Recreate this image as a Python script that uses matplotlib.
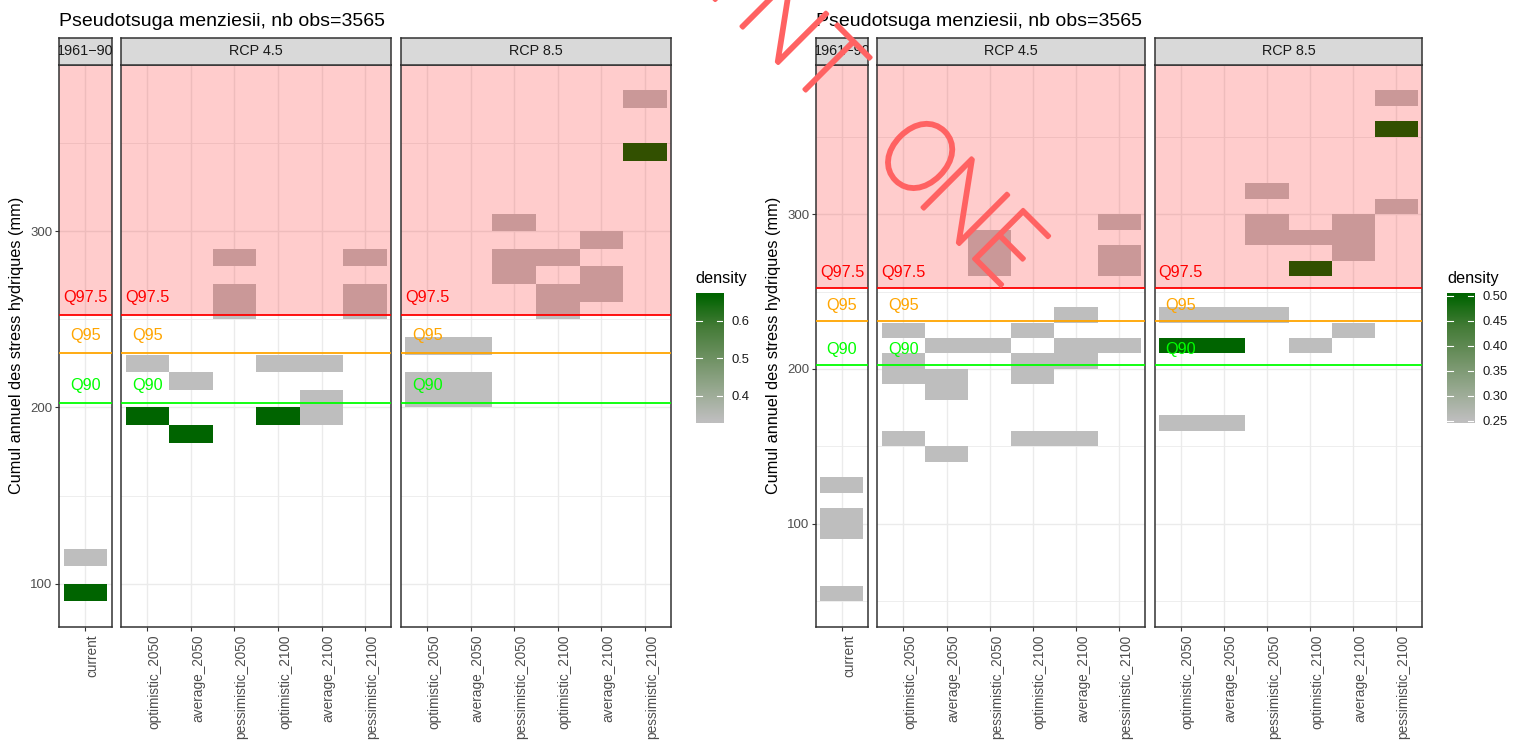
import matplotlib.pyplot as plt
import matplotlib.patheffects as pe
import numpy as np
from matplotlib import font_manager
from matplotlib.colors import LinearSegmentedColormap, Normalize
from matplotlib.ticker import MultipleLocator

plt.rcParams['font.family'] = ['Liberation Sans', 'DejaVu Sans']

W, H = 1523, 742
BIN = 10  # height of one stress bin (mm)

TITLE = 'Pseudotsuga menziesii, nb obs=3565'
YLABEL = 'Cumul annuel des stress hydriques (mm)'
FACETS = ['1961\u221290', 'RCP 4.5', 'RCP 8.5']
SCENARIOS = ['optimistic_2050', 'average_2050', 'pessimistic_2050',
             'optimistic_2100', 'average_2100', 'pessimistic_2100']

# quantiles of the 1961-90 stress distribution
Q975, Q95, Q90 = 252.5, 231.0, 202.5
Q_NAMES = ['Q97.5', 'Q95', 'Q90']
Q_COLORS = ['red', 'orange', '#00FF00']

# tiles: (column, lower bin edge in mm, density)
left_current = [(1, 110, 0.333), (1, 90, 0.667)]
left_rcp45 = [
    (1, 220, 0.333), (1, 190, 0.667),
    (2, 210, 0.333), (2, 180, 0.667),
    (3, 280, 0.333), (3, 260, 0.333), (3, 250, 0.333),
    (4, 220, 0.333), (4, 190, 0.667),
    (5, 220, 0.333), (5, 200, 0.333), (5, 190, 0.333),
    (6, 280, 0.333), (6, 260, 0.333), (6, 250, 0.333),
]
left_rcp85 = [
    (1, 230, 0.333), (1, 210, 0.333), (1, 200, 0.333),
    (2, 230, 0.333), (2, 210, 0.333), (2, 200, 0.333),
    (3, 300, 0.333), (3, 280, 0.333), (3, 270, 0.333),
    (4, 280, 0.333), (4, 260, 0.333), (4, 250, 0.333),
    (5, 290, 0.333), (5, 270, 0.333), (5, 260, 0.333),
    (6, 370, 0.333), (6, 340, 0.667),
]

right_current = [(1, 120, 0.25), (1, 100, 0.25), (1, 90, 0.25), (1, 50, 0.25)]
right_rcp45 = [
    (1, 220, 0.25), (1, 200, 0.25), (1, 190, 0.25), (1, 150, 0.25),
    (2, 210, 0.25), (2, 190, 0.25), (2, 180, 0.25), (2, 140, 0.25),
    (3, 280, 0.25), (3, 270, 0.25), (3, 260, 0.25), (3, 210, 0.25),
    (4, 220, 0.25), (4, 200, 0.25), (4, 190, 0.25), (4, 150, 0.25),
    (5, 230, 0.25), (5, 210, 0.25), (5, 200, 0.25), (5, 150, 0.25),
    (6, 290, 0.25), (6, 270, 0.25), (6, 260, 0.25), (6, 210, 0.25),
]
right_rcp85 = [
    (1, 230, 0.25), (1, 210, 0.5), (1, 160, 0.25),
    (2, 230, 0.25), (2, 210, 0.5), (2, 160, 0.25),
    (3, 310, 0.25), (3, 290, 0.25), (3, 280, 0.25), (3, 230, 0.25),
    (4, 280, 0.25), (4, 260, 0.5), (4, 210, 0.25),
    (5, 290, 0.25), (5, 280, 0.25), (5, 270, 0.25), (5, 220, 0.25),
    (6, 370, 0.25), (6, 350, 0.5), (6, 300, 0.25),
]

# grey -> darkgreen, interpolated in Lab like ggplot's gradient
cmap = LinearSegmentedColormap.from_list(
    'grey_green', ['#BEBEBE', '#96A88F', '#6E9162', '#437B36', '#006400'])

fig = plt.figure(figsize=(W / 100, H / 100), dpi=100)


def rect(l, t, r, b):
    return [l / W, 1 - b / H, (r - l) / W, (b - t) / H]


def style_frame(ax):
    for s in ax.spines.values():
        s.set_color('#333333')
        s.set_linewidth(1.1)


def draw_chart(x0, x1, facet_tiles, vmin, vmax, cticks, cfmt):
    top, bottom, strip_top = 64.5, 627, 38.3
    spans = [1.2, 6.2, 6.2]
    gap = 9.7
    unit = (x1 - x0 - 2 * gap) / sum(spans)
    edges = [b for tiles in facet_tiles for _, b, _ in tiles]
    lo, hi = min(edges), max(edges) + BIN
    ylim = (lo - 0.05 * (hi - lo), hi + 0.05 * (hi - lo))
    norm = Normalize(vmin, vmax)

    left = x0
    for k, (facet, tiles, span) in enumerate(zip(FACETS, facet_tiles, spans)):
        right = left + span * unit
        labels = ['current'] if k == 0 else SCENARIOS
        ax = fig.add_axes(rect(left, top, right, bottom))
        pos, edge, dens = zip(*tiles)
        ax.bar(pos, BIN, bottom=edge, width=1, align='center',
               color=cmap(norm(np.array(dens))), linewidth=0,
               antialiased=False, zorder=1)
        ax.axhspan(Q975, ylim[1] + 50, color='red', alpha=0.2, lw=0, zorder=2)
        for q, name, col in zip([Q975, Q95, Q90], Q_NAMES, Q_COLORS):
            ax.axhline(q, color=col, lw=1.3, zorder=3)
            ax.text(1, q + 10, name, color=col, ha='center', va='center',
                    fontsize=11.7, zorder=4)
        ax.set_xlim(0.4, 0.4 + span)
        ax.set_ylim(*ylim)
        ax.set_xticks(range(1, len(labels) + 1))
        ax.set_xticklabels(labels, rotation=90, ha='left', va='top')
        ax.yaxis.set_major_locator(MultipleLocator(100))
        ax.yaxis.set_minor_locator(MultipleLocator(50))
        ax.set_axisbelow(True)
        ax.grid(True, which='major', color='#EBEBEB', lw=1.0)
        ax.grid(True, which='minor', axis='y', color='#EBEBEB', lw=0.6)
        ax.tick_params(which='major', length=2.9, width=0.8, color='#333333',
                       labelcolor='#4D4D4D')
        ax.tick_params(axis='x', pad=2.5, labelsize=9.8)
        ax.tick_params(axis='y', pad=2, labelsize=9.5)
        ax.tick_params(which='minor', length=0)
        if k > 0:
            ax.tick_params(axis='y', left=False, labelleft=False)
        style_frame(ax)

        sax = fig.add_axes(rect(left, strip_top, right, top))
        sax.set_facecolor('#D9D9D9')
        sax.set_xticks([])
        sax.set_yticks([])
        style_frame(sax)
        sax.text(0.5, 0.5, facet, transform=sax.transAxes, ha='center',
                 va='center', fontsize=10.4, color='#1A1A1A', clip_on=True)
        left = right + gap

    fig.text(x0 / W, 1 - 26 / H, TITLE, fontsize=14, ha='left', va='baseline')
    fig.text((x0 - 43) / W, 1 - (top + bottom) / 2 / H, YLABEL, fontsize=11.7,
             rotation=90, ha='center', va='center')

    # colour bar
    cx = x1 + 24.7
    ext = 0.02 * (vmax - vmin)
    cax = fig.add_axes(rect(cx, 293, cx + 27.3, 423.3))
    grad = np.linspace(vmin - ext, vmax + ext, 256).reshape(-1, 1)
    cax.imshow(grad, aspect='auto', cmap=cmap, norm=norm, origin='lower',
               extent=[0, 1, vmin - ext, vmax + ext])
    cax.set_xlim(0, 1)
    cax.set_ylim(vmin - ext, vmax + ext)
    cax.set_xticks([])
    cax.set_yticks(cticks)
    cax.set_yticklabels([cfmt.format(t) for t in cticks])
    cax.yaxis.tick_right()
    cax.tick_params(axis='y', length=0, pad=6, labelsize=9.4,
                    labelcolor='#1A1A1A')
    for s in cax.spines.values():
        s.set_visible(False)
    for t in cticks:
        cax.plot([0, 0.22], [t, t], color='white', lw=0.8)
        cax.plot([0.78, 1], [t, t], color='white', lw=0.8)
    fig.text(cx / W, 1 - 283 / H, 'density', fontsize=11.7, ha='left',
             va='baseline')


draw_chart(59.3, 671, [left_current, left_rcp45, left_rcp85],
           0.333, 0.667, [0.4, 0.5, 0.6], '{:.1f}')
draw_chart(816, 1422.3, [right_current, right_rcp45, right_rcp85],
           0.25, 0.5, [0.25, 0.30, 0.35, 0.40, 0.45, 0.50], '{:.2f}')


def font_weight(entry):
    w = entry.weight
    return w if isinstance(w, (int, float)) else font_manager.weight_dict.get(w, 400)


# thin letters for the stamp: lightest installed sans cut, else typewriter
thin = [f for f in font_manager.fontManager.ttflist
        if f.name in ('Roboto', 'Lato', 'Open Sans', 'Noto Sans', 'Inter', 'DejaVu Sans')
        and f.style == 'normal']
thin = min(thin, key=font_weight) if thin else None
cap = 68
if thin is not None and font_weight(thin) < 300:
    stamp_font = font_manager.FontProperties(fname=thin.fname, size=cap / 0.71 * 0.72)
    stroke = 2.6
else:
    stamp_font = font_manager.FontProperties(family='cmtt10', size=cap / 0.611 * 0.72)
    stroke = 0
stamp_color = '#FF6262'

# diagonal stamp across the page, one letter at a time
stamp = 'INT ONE'
angle = 45
along = np.array([np.cos(np.radians(angle)), np.sin(np.radians(angle))])
down = np.array([-along[1], along[0]])
for k, ch in enumerate(stamp):
    if ch == ' ':
        continue
    c = np.array([829, 66]) + (k - 2) * 64 * along + down * cap / 2
    fig.text(c[0] / W, 1 - c[1] / H, ch, rotation=-angle, rotation_mode='anchor',
             ha='center', va='baseline', fontproperties=stamp_font,
             color=stamp_color,
             path_effects=[pe.Stroke(linewidth=stroke, foreground=stamp_color,
                                     joinstyle='round', capstyle='round'),
                           pe.Normal()])

fig.savefig('out.png', dpi=100)
